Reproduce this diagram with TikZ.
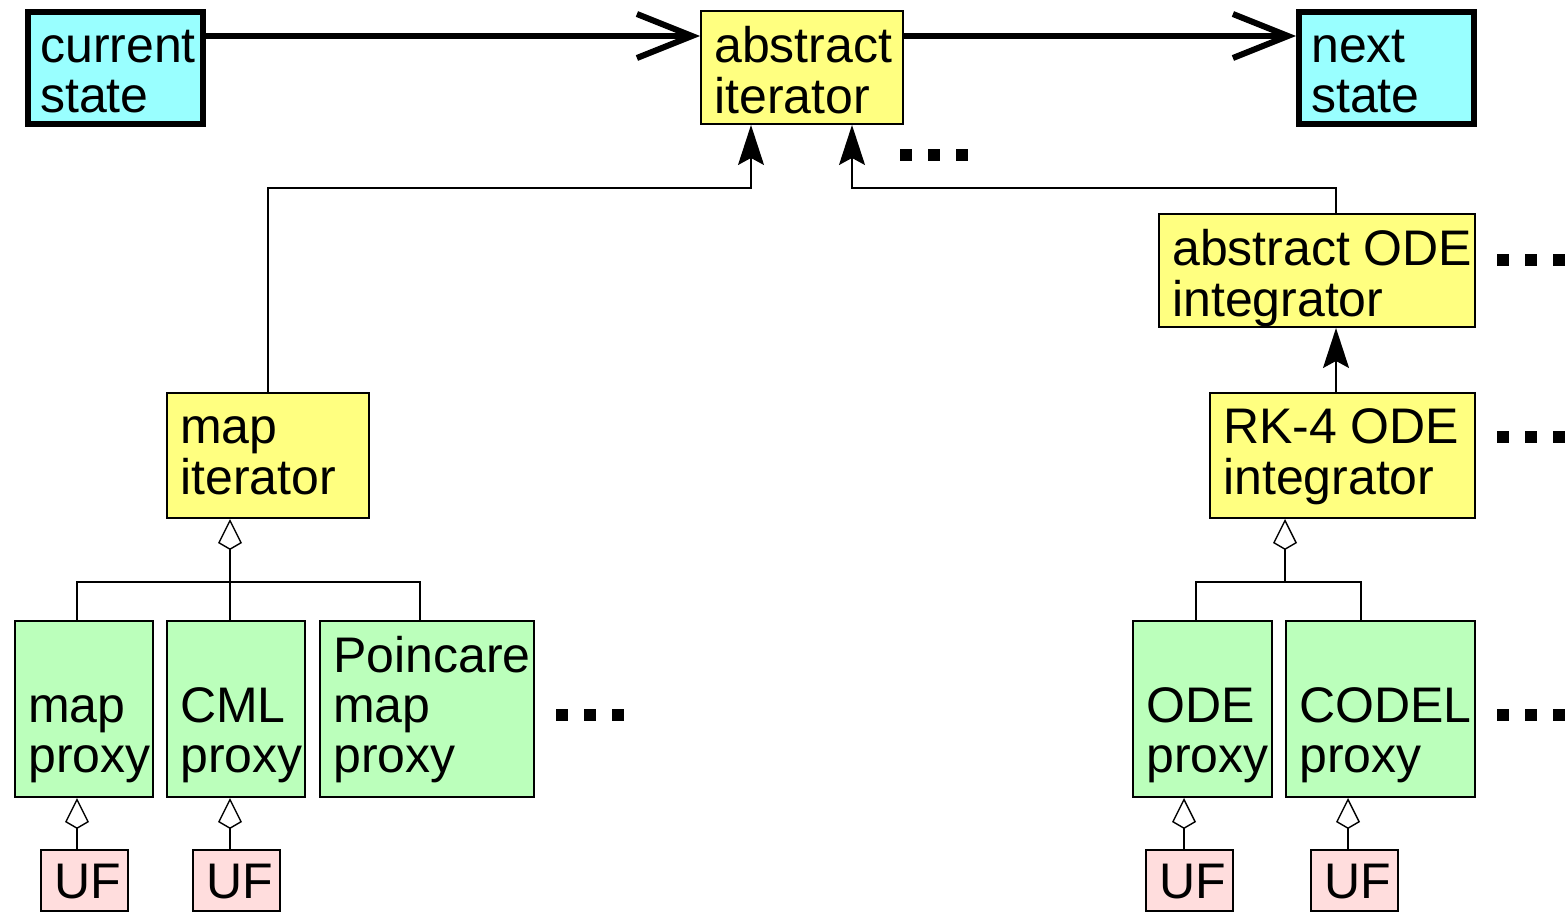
\documentclass[tikz,border=0pt]{standalone}
\usepackage{fontspec}
\setmainfont{Liberation Sans}
\usetikzlibrary{arrows.meta}
\definecolor{statefill}{HTML}{99FFFF}
\definecolor{classfill}{HTML}{FFFF80}
\definecolor{proxyfill}{HTML}{BBFFBB}
\definecolor{uffill}{HTML}{FFDDDD}
\begin{document}
\begin{tikzpicture}[x=1pt,y=-1pt,
  box/.style={draw=black, line width=2pt, rectangle, inner sep=0pt},
  statebox/.style={box, fill=statefill, line width=6pt},
  classbox/.style={box, fill=classfill},
  proxybox/.style={box, fill=proxyfill},
  ufbox/.style={box, fill=uffill},
  lbl/.style={anchor=base west, inner sep=0pt, font=\fontsize{50}{50}\selectfont},
  flow/.style={line width=6pt, -{Straight Barb[length=55pt,width=44pt]}},
  conn/.style={line width=1.4pt},
  inherit/.style={conn, -{Stealth[length=40pt,width=26pt,inset=7pt]}},
  owns/.style={conn, -{Kite[open,length=31pt,width=24pt,inset=7pt,fill=white,line width=1.4pt]}},
  more/.style={fill=black, minimum size=12pt, inner sep=0pt, rectangle}
]
\useasboundingbox (0,0) rectangle (1565,913);

% top row
\node[statebox, minimum width=175, minimum height=112] (cur) at (115.5,68) {};
\node[classbox, minimum width=202, minimum height=113] (absit) at (802,67.5) {};
\node[statebox, minimum width=175, minimum height=112] (nxt) at (1386.5,68) {};

% iterators
\node[classbox, minimum width=202, minimum height=125] (mapit) at (268,455.5) {};
\node[classbox, minimum width=316, minimum height=113] (aode) at (1317,270.5) {};
\node[classbox, minimum width=265, minimum height=125] (rk4) at (1342.5,455.5) {};

% proxies
\node[proxybox, minimum width=138, minimum height=176] (mprox) at (84,709) {};
\node[proxybox, minimum width=138, minimum height=176] (cml) at (236,709) {};
\node[proxybox, minimum width=214, minimum height=176] (poin) at (427,709) {};
\node[proxybox, minimum width=139, minimum height=176] (odep) at (1202.5,709) {};
\node[proxybox, minimum width=189, minimum height=176] (codel) at (1380.5,709) {};

% user functions
\node[ufbox, minimum width=87, minimum height=61] (uf1) at (84.5,880.5) {};
\node[ufbox, minimum width=87, minimum height=61] (uf2) at (236.5,880.5) {};
\node[ufbox, minimum width=87, minimum height=61] (uf3) at (1189.5,880.5) {};
\node[ufbox, minimum width=87, minimum height=61] (uf4) at (1354.5,880.5) {};

% labels
\node[lbl] (t-cur) at (40,62) {\begin{tabular}[t]{@{}l@{}}current\\state\end{tabular}};
\node[lbl] (t-absit) at (714,62) {\begin{tabular}[t]{@{}l@{}}abstract\\iterator\end{tabular}};
\node[lbl] (t-nxt) at (1311,62) {\begin{tabular}[t]{@{}l@{}}next\\state\end{tabular}};
\node[lbl] (t-aode) at (1172,265) {\begin{tabular}[t]{@{}l@{}}abstract ODE\\integrator\end{tabular}};
\node[lbl] (t-mapit) at (180,443) {\begin{tabular}[t]{@{}l@{}}map\\iterator\end{tabular}};
\node[lbl] (t-rk4) at (1223,443) {\begin{tabular}[t]{@{}l@{}}RK-4 ODE\\integrator\end{tabular}};
\node[lbl] (t-mprox) at (28,722) {\begin{tabular}[t]{@{}l@{}}map\\proxy\end{tabular}};
\node[lbl] (t-cml) at (180,722) {\begin{tabular}[t]{@{}l@{}}CML\\proxy\end{tabular}};
\node[lbl] (t-poin) at (333,672) {\begin{tabular}[t]{@{}l@{}}Poincare\\map\\proxy\end{tabular}};
\node[lbl] (t-odep) at (1146,722) {\begin{tabular}[t]{@{}l@{}}ODE\\proxy\end{tabular}};
\node[lbl] (t-codel) at (1299,722) {\begin{tabular}[t]{@{}l@{}}CODEL\\proxy\end{tabular}};
\node[lbl] (t-uf1) at (54,898) {UF};
\node[lbl] (t-uf2) at (206,898) {UF};
\node[lbl] (t-uf3) at (1159,898) {UF};
\node[lbl] (t-uf4) at (1324,898) {UF};

% state flow
\coordinate (ytop) at (0,36);
\draw[flow] (cur.east |- ytop) -- (absit.west |- ytop);
\draw[flow] (absit.east |- ytop) -- (nxt.west |- ytop);

% inheritance into the abstract iterator
\coordinate (k1) at (751,188);
\coordinate (k2) at (852,188);
\coordinate (xr) at (1336,0);
\draw[inherit] (mapit.north) |- (k1) -- (k1 |- absit.south);
\draw[inherit] (xr |- aode.north) |- (k2) -- (k2 |- absit.south);
\draw[inherit] (xr |- rk4.north) -- (xr |- aode.south);

% map proxies
\coordinate (jL) at (230,582);
\coordinate (xa) at (77,0);
\coordinate (xc) at (420,0);
\draw[owns] (jL) -- (jL |- mapit.south);
\draw[conn] (xa |- mprox.north) |- (jL);
\draw[conn] (xc |- poin.north) |- (jL);
\draw[conn] (jL) -- (jL |- cml.north);

% ODE proxies
\coordinate (jR) at (1285,582);
\coordinate (xo) at (1196,0);
\coordinate (xd) at (1361,0);
\draw[owns] (jR) -- (jR |- rk4.south);
\draw[conn] (xo |- odep.north) |- (jR);
\draw[conn] (xd |- codel.north) |- (jR);

% user functions
\coordinate (u1) at (77,0);
\coordinate (u2) at (230,0);
\coordinate (u3) at (1184,0);
\coordinate (u4) at (1348,0);
\draw[owns] (u1 |- uf1.north) -- (u1 |- mprox.south);
\draw[owns] (u2 |- uf2.north) -- (u2 |- cml.south);
\draw[owns] (u3 |- uf3.north) -- (u3 |- odep.south);
\draw[owns] (u4 |- uf4.north) -- (u4 |- codel.south);

% ellipses
\foreach \n/\x/\y in {a/906/155, b/1503/260, c/1503/437, d/562/715, e/1503/715}{
  \node[more] (\n1) at (\x,\y) {};
  \node[more] (\n2) at (\x+28,\y) {};
  \node[more] (\n3) at (\x+56,\y) {};
}
\end{tikzpicture}
\end{document}
